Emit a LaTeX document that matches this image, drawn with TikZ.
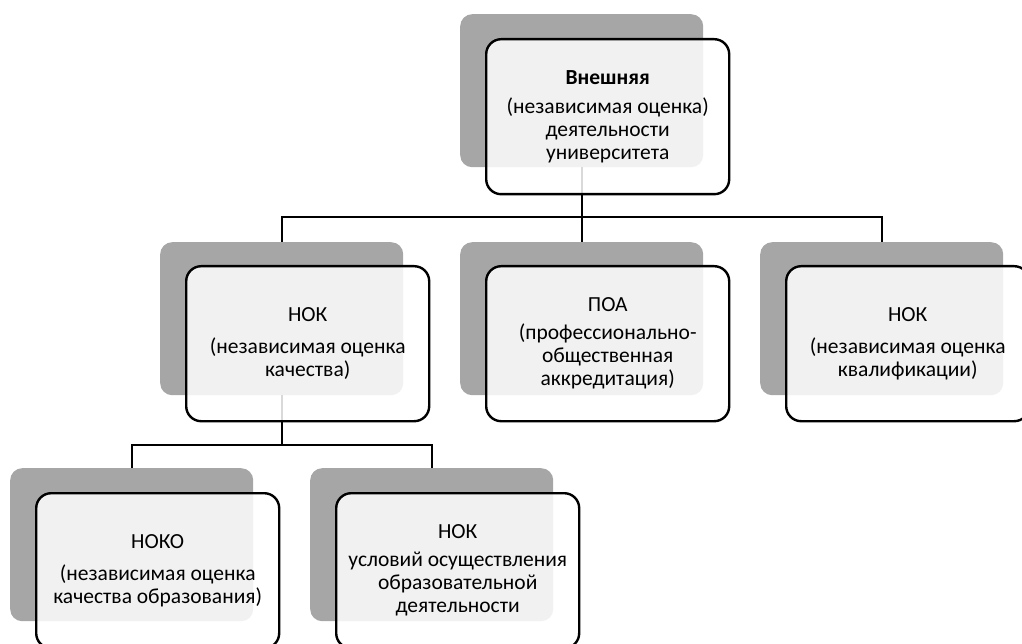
\documentclass[tikz,border=0pt]{standalone}
\usepackage{fontspec}
\setmainfont{Carlito}

\begin{document}
\begin{tikzpicture}[x=1pt,y=-1pt,
  backbox/.style={fill=shade,rounded corners=12pt,minimum width=243pt,minimum height=153pt,inner sep=0pt,anchor=north west},
  frontbox/.style={draw=black,line width=2.4pt,fill=white,fill opacity=0.85,text opacity=1,rounded corners=15pt,minimum width=243pt,minimum height=155pt,inner sep=2pt,anchor=north west,align=center,font=\fontsize{21.5}{23}\selectfont},
  conn/.style={line width=2pt}]
\definecolor{shade}{HTML}{A6A6A6}
\useasboundingbox (0,0) rectangle (1022,644);
\clip (0,0) rectangle (1022,644);
  \foreach \nm/\xx/\yy in {top/460/14,nok/160/242,poa/460/242,kv/760/242,noko/10/468,usl/310/468}
  {  \node [backbox] (g\nm) at (\xx,\yy) {};}
\draw[conn] (gtop.south) -- ++(0,50) -| (gnok.north);
\draw[conn] (gtop.south) -- ++(0,50) -| (gkv.north);
\draw[conn] (gtop.south) -- (gpoa.north);
\draw[conn] (gnok.south) -- ++(0,50) -| (gnoko.north);
\draw[conn] (gnok.south) -- ++(0,50) -| (gusl.north);
\node[frontbox] (ftop) at (485,38) {\textbf{Внешняя}\\[6pt](независимая оценка)\\деятельности\\университета};
\node[frontbox] (fnok) at (185,265) {НОК\\[9pt](независимая оценка\\качества)};
\node[frontbox] (fpoa) at (485,265) {ПОА\\[5pt](профессионально-\\общественная\\аккредитация)};
\node[frontbox] (fkv) at (785,265) {НОК\\[9pt](независимая оценка\\квалификации)};
\node[frontbox] (fnoko) at (35,492) {НОКО\\[9pt](независимая оценка\\качества образования)};
\node[frontbox] (fusl) at (335,492) {НОК\\[5pt]условий осуществления\\образовательной\\деятельности};
\end{tikzpicture}
\end{document}
